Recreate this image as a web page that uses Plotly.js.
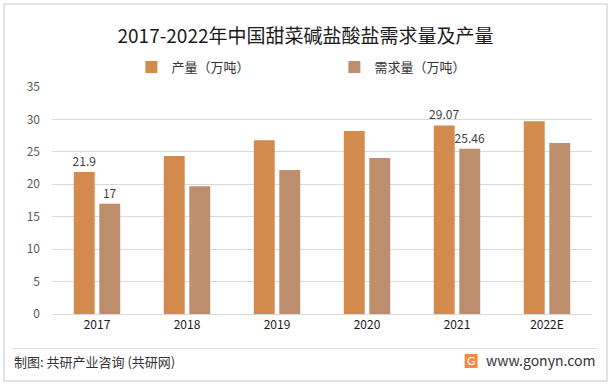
<!DOCTYPE html>
<html>
<head>
<meta charset="utf-8">
<script src="https://cdn.plot.ly/plotly-3.0.1.min.js"></script>
<style>
html,body{margin:0;padding:0;background:#fff;}
#chart{width:611px;height:385px;}
</style>
</head>
<body>
<div id="chart"></div>
<script>
var years = ["2017", "2018", "2019", "2020", "2021", "2022E"];
var production = [21.9, 24.35, 26.8, 28.2, 29.07, 29.7];
var demand = [17, 19.7, 22.2, 24.05, 25.46, 26.35];
var productionLabels = ["21.9", "", "", "", "29.07", ""];
var demandLabels = ["17", "", "", "", "25.46", ""];
var seriesNames = ["产量（万吨）", "需求量（万吨）"];
var yTicks = [0, 5, 10, 15, 20, 25, 30, 35];

var font = "'Noto Sans CJK SC', 'Microsoft YaHei', sans-serif";

var traces = [
  {
    type: "bar", name: seriesNames[0], x: years, y: production,
    text: productionLabels, textposition: "outside", cliponaxis: false,
    constraintext: "none",
    textfont: {size: 12, color: "#404040", family: font},
    marker: {color: "#D38B4D"}, hoverinfo: "x+y"
  },
  {
    type: "bar", name: seriesNames[1], x: years, y: demand,
    text: demandLabels, textposition: "outside", cliponaxis: false,
    constraintext: "none",
    textfont: {size: 12, color: "#404040", family: font},
    marker: {color: "#BC8E6E"}, hoverinfo: "x+y"
  }
];

var layout = {
  width: 611, height: 385,
  paper_bgcolor: "#ffffff", plot_bgcolor: "#ffffff",
  font: {family: font, color: "#404040", size: 12},
  margin: {l: 52, r: 18.5, t: 87, b: 71, pad: 0},
  title: {
    text: "2017-2022年中国甜菜碱盐酸盐需求量及产量",
    font: {size: 19, color: "#1a1a1a", family: font},
    x: 0.5, xanchor: "center", y: 0.905, yanchor: "middle"
  },
  barmode: "group",
  bargap: 0.433,
  bargroupgap: 0.18,
  showlegend: true,
  legend: {
    orientation: "h", x: 0.147, xanchor: "left", y: 1 + 20/227, yanchor: "middle",
    font: {size: 13, color: "#333333", family: font},
    entrywidth: 158, entrywidthmode: "pixels",
    itemwidth: 30, bgcolor: "rgba(0,0,0,0)", traceorder: "normal"
  },
  xaxis: {
    type: "category", showgrid: false, zeroline: false,
    showline: true, linecolor: "#d9d9d9", linewidth: 1,
    ticks: "", tickfont: {size: 12, color: "#1a1a1a", family: font}
  },
  yaxis: {
    range: [0, 35], tickvals: yTicks, ticktext: yTicks.map(String),
    showgrid: true, gridcolor: "#d9d9d9", gridwidth: 1,
    zeroline: false, showline: false, ticks: "",
    ticklabelstandoff: 11,
    tickfont: {size: 12, color: "#595959", family: font}
  },
  shapes: [
    {type: "rect", xref: "paper", yref: "paper",
     x0: -48/540.5, x1: 1 + 15/540.5, y0: -67/227, y1: 1 + 83/227,
     line: {color: "#d9d9d9", width: 1.5}, fillcolor: "rgba(0,0,0,0)"},
    {type: "line", xref: "paper", yref: "paper",
     x0: -40/540.5, x1: 1 + 6/540.5, y0: -34.5/227, y1: -34.5/227,
     line: {color: "#e0e0e0", width: 1}},
    {type: "rect", xref: "paper", yref: "paper",
     x0: (465-52)/540.5, x1: (478-52)/540.5, y0: (314-368)/227, y1: (314-354)/227,
     line: {width: 0}, fillcolor: "#F08A4B"}
  ],
  annotations: [
    {text: "制图: 共研产业咨询 (共研网)", xref: "paper", yref: "paper",
     x: (12-52)/540.5, y: (314-361)/227, xanchor: "left", yanchor: "middle",
     showarrow: false, font: {size: 13, color: "#333333", family: font}},
    {text: "G", xref: "paper", yref: "paper",
     x: (471.5-52)/540.5, y: (314-361)/227, xanchor: "center", yanchor: "middle",
     showarrow: false, font: {size: 11, color: "#ffffff", family: "DejaVu Sans"}},
    {text: "www.gonyn.com", xref: "paper", yref: "paper",
     x: (598-52)/540.5, y: (314-360)/227, xanchor: "right", yanchor: "middle",
     showarrow: false, font: {size: 14, color: "#333333", family: font}}
  ]
};

Plotly.newPlot("chart", traces, layout, {displayModeBar: false, staticPlot: true});
</script>
</body>
</html>
